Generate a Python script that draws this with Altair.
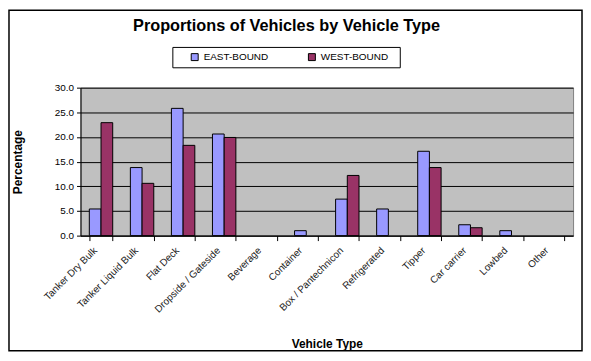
import altair as alt
import pandas as pd

categories = ["Tanker Dry Bulk", "Tanker Liquid Bulk", "Flat Deck", "Dropside / Gateside",
              "Beverage", "Container", "Box / Pantechnicon", "Refrigerated", "Tipper",
              "Car carrier", "Lowbed", "Other"]
east_bound = [5.4, 13.8, 25.8, 20.6, 0.0, 1.0, 7.4, 5.4, 17.1, 2.2, 1.0, 0.0]
west_bound = [22.9, 10.6, 18.3, 19.9, 0.0, 0.0, 12.2, 0.0, 13.8, 1.6, 0.0, 0.0]
series = ["EAST-BOUND", "WEST-BOUND"]
colors = ["#9999FF", "#993366"]
y_ticks = [0, 5, 10, 15, 20, 25, 30]
title_text = ["Proportions of Vehicles by Vehicle Type"]

rows = []
for c, e, w in zip(categories, east_bound, west_bound):
    rows.append({"type": c, "series": series[0], "value": e})
    rows.append({"type": c, "series": series[1], "value": w})
df = pd.DataFrame(rows)

FONT = "Liberation Sans"
W, H = 496, 149
PL, PT, PR, PB = 73, 79, 10, 117

bars = alt.Chart(df).mark_bar(stroke="black").encode(
    x=alt.X("type:N", sort=categories,
            scale=alt.Scale(paddingInner=0.43, paddingOuter=0.215),
            axis=alt.Axis(title="Vehicle Type", labelAngle=-45, labelAlign="right",
                          labelBaseline="middle", labelPadding=8, labelOffset=-6,
                          tickBand="extent", tickSize=5, tickColor="black",
                          domainColor="black", labelFont=FONT, labelFontSize=10,
                          labelColor="#222222", titleFont=FONT, titleFontSize=12,
                          titleFontWeight="bold", titleColor="black",
                          titleY=109, titleBaseline="middle")),
    xOffset=alt.XOffset("series:N", sort=series,
                        scale=alt.Scale(paddingInner=0, paddingOuter=0)),
    y=alt.Y("value:Q", scale=alt.Scale(domain=[0, 30], nice=False),
            axis=alt.Axis(title="Percentage", values=y_ticks, format=".1f",
                          grid=True, gridColor="black", gridOpacity=1, gridWidth=1,
                          tickSize=4, tickColor="black", domainColor="black",
                          labelFont=FONT, labelFontSize=10, labelColor="black",
                          labelPadding=3, titleFont=FONT, titleFontSize=12,
                          titleFontWeight="bold", titleColor="black",
                          titleX=-63, titleBaseline="middle")),
    color=alt.Color("series:N", scale=alt.Scale(domain=series, range=colors),
                    legend=alt.Legend(title=None, orient="none", legendX=110, legendY=-36,
                                      direction="horizontal", padding=0,
                                      symbolType="square", symbolSize=49,
                                      symbolStrokeColor="black", symbolStrokeWidth=1,
                                      labelFont=FONT, labelFontSize=10, labelColor="black",
                                      labelOffset=4, columnPadding=37)),
    strokeWidth=alt.condition(alt.datum.value > 0, alt.value(1), alt.value(0)),
)

one = pd.DataFrame({"a": [0]})

legend_box = alt.Chart(one).mark_rect(
    fill="white", stroke="black", strokeWidth=1
).encode(
    x=alt.value(93), x2=alt.value(322), y=alt.value(-40.5), y2=alt.value(-20),
)

border = alt.Chart(one).mark_rect(
    fillOpacity=0, stroke="black", strokeWidth=1.5
).encode(
    x=alt.value(-PL + 1), x2=alt.value(W + PR - 1),
    y=alt.value(-PT + 1), y2=alt.value(H + PB - 1),
)

title = alt.Chart(pd.DataFrame({"t": title_text})).mark_text(
    font=FONT, fontSize=16.4, fontWeight="bold", color="black",
    align="center", baseline="alphabetic"
).encode(
    text="t:N", x=alt.value(288.5 - 81), y=alt.value(30 - 87),
)

chart = alt.layer(legend_box, bars, border, title).properties(
    width=W, height=H,
    autosize=alt.AutoSizeParams(type="none"),
    padding={"left": PL, "top": PT, "right": PR, "bottom": PB},
    background="white",
).configure_view(fill="#C0C0C0", stroke="#808080", strokeWidth=1)

chart.save("out.html", embed_options={"renderer": "svg", "actions": False})
